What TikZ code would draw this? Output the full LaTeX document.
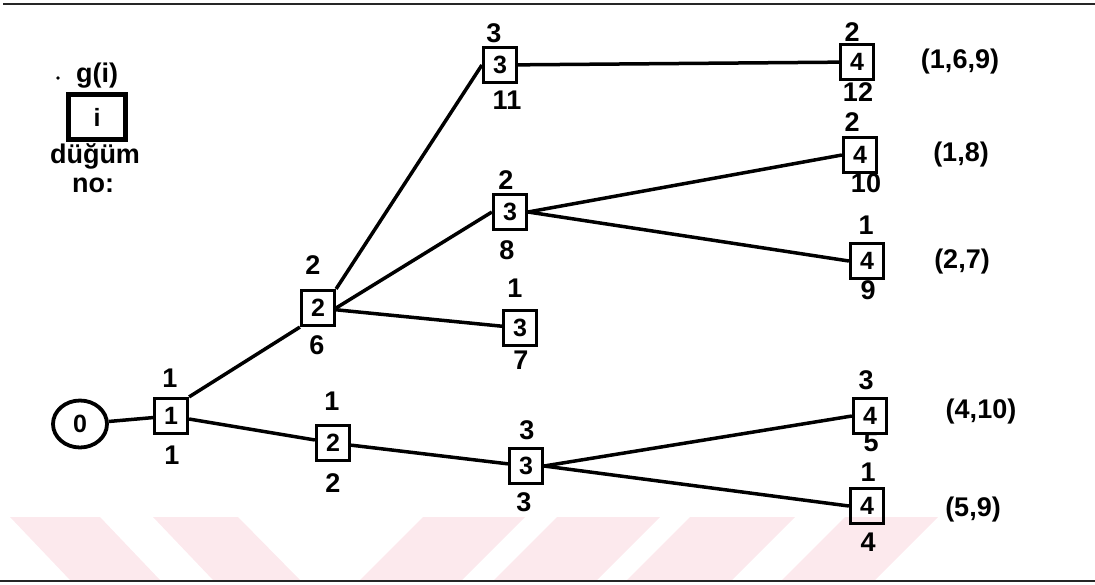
\documentclass[tikz,border=0pt]{standalone}
\usepackage{fontspec}
\setmainfont{Liberation Sans}
\usetikzlibrary{shapes.geometric}
\definecolor{wm}{RGB}{252,233,237}
\tikzset{
  lab/.style={font=\fontsize{27}{30}\selectfont\bfseries, inner sep=0pt},
  box/.style={draw=black, line width=3.2pt, minimum width=33pt, minimum height=35pt, inner sep=0pt, font=\fontsize{25}{28}\selectfont\bfseries},
  edge/.style={line width=3.5pt, black},
  rule/.style={line width=2.5pt, black!85}
}
\begin{document}
\begin{tikzpicture}[x=1pt,y=-1pt]
\useasboundingbox (0,0) rectangle (1095,584);
% watermark stripes
\fill[wm] (10,517) -- (100,517) -- (160,580) -- (70,580) -- cycle;
\fill[wm] (153,517) -- (238,517) -- (300,580) -- (213,580) -- cycle;
\fill[wm] (423,517) -- (525,517) -- (462,580) -- (360,580) -- cycle;
\fill[wm] (557,517) -- (660,517) -- (597,580) -- (494,580) -- cycle;
\fill[wm] (690,517) -- (795,517) -- (732,580) -- (627,580) -- cycle;
\fill[wm] (845,517) -- (938,517) -- (875,580) -- (782,580) -- cycle;
% frame rules
\coordinate (tl) at (3,4); \coordinate (tr) at (1095,4);
\coordinate (bl) at (0,581); \coordinate (br) at (1095,581);
\draw[rule] (tl) -- (tr);
\draw[rule] (bl) -- (br);
% legend
\fill (58,78) circle (1.8pt);
\node[lab] (lg) at (97,76) {g(i)};
\node[draw, line width=4.5pt, minimum width=57pt, minimum height=45pt, inner sep=0pt, font=\fontsize{25}{28}\selectfont\bfseries] (li) at (97,117) {i};
\node[lab] (ld) at (95,156) {düğüm};
\node[lab] (ln) at (93,185) {no:};
% nodes
\node[ellipse, draw, line width=3.8pt, minimum width=54pt, minimum height=47pt, inner sep=0pt, font=\fontsize{25}{28}\selectfont\bfseries] (n0) at (80,424) {0};
\node[box] (n1) at (171,416) {1};
\node[box] (n2) at (333,443) {2};
\node[box] (n3) at (526,466) {3};
\node[box] (n6) at (318,308) {2};
\node[box] (n7) at (520,328) {3};
\node[box] (n8) at (510,212) {3};
\node[box] (n11) at (500,65) {3};
\node[box] (n12) at (857,62) {4};
\node[box] (n10) at (860,155) {4};
\node[box] (n9) at (867,261) {4};
\node[box] (n5) at (870,416) {4};
\node[box] (n4) at (867,506) {4};
% edges
\draw[edge] (n0) -- (n1);
\draw[edge] (n1.north east) -- (n6.south west);
\draw[edge] (n1) -- (n2);
\draw[edge] (n6.north east) -- (n11.west);
\draw[edge] (n6.east) -- (n8.west);
\draw[edge] (n6) -- (n7);
\draw[edge] (n11) -- (n12);
\draw[edge] (n8.east) -- (n10.west);
\draw[edge] (n8.east) -- (n9.west);
\draw[edge] (n2) -- (n3);
\draw[edge] (n3.east) -- (n5.west);
\draw[edge] (n3.east) -- (n4.west);
% labels above / below
\node[lab] (a1) at (170,378) {1};   \node[lab] (b1) at (172,455) {1};
\node[lab] (a2) at (332,401) {1};   \node[lab] (b2) at (333,483) {2};
\node[lab] (a3) at (527,430) {3};   \node[lab] (b3) at (524,502) {3};
\node[lab] (a6) at (313,265) {2};   \node[lab] (b6) at (317,345) {6};
\node[lab] (a7) at (515,288) {1};   \node[lab] (b7) at (521,360) {7};
\node[lab] (a8) at (506,180) {2};   \node[lab] (b8) at (507,250) {8};
\node[lab] (a11) at (494,33) {3};   \node[lab] (b11) at (507,100) {11};
\node[lab] (a12) at (852,32) {2};   \node[lab] (b12) at (858,92) {12};
\node[lab] (a10) at (852,122) {2};  \node[lab] (b10) at (866,183) {10};
\node[lab] (a9) at (866,225) {1};   \node[lab] (b9) at (868,290) {9};
\node[lab] (a5) at (866,380) {3};   \node[lab] (b5) at (871,442) {5};
\node[lab] (a4) at (868,472) {1};   \node[lab] (b4) at (868,542) {4};
% sets
\node[lab] (s12) at (960,62) {(1,6,9)};
\node[lab] (s10) at (961,155) {(1,8)};
\node[lab] (s9) at (962,262) {(2,7)};
\node[lab] (s5) at (981,412) {(4,10)};
\node[lab] (s4) at (973,510) {(5,9)};
\end{tikzpicture}
\end{document}
